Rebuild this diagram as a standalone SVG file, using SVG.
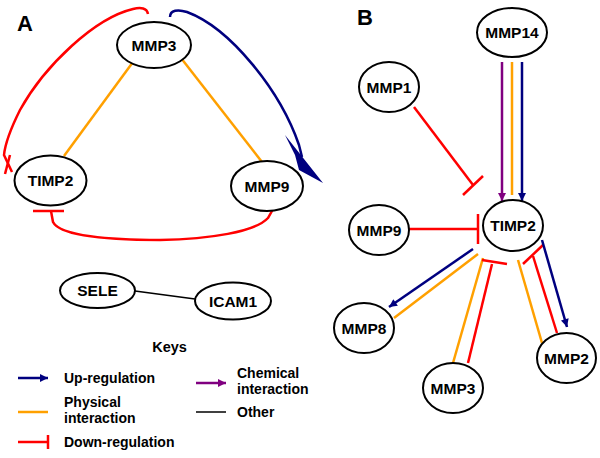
<svg xmlns="http://www.w3.org/2000/svg" width="600" height="458" viewBox="0 0 600 458">
<defs>
<marker id="ah-blue" viewBox="0 0 10 10" refX="10" refY="5" markerWidth="10" markerHeight="8" markerUnits="userSpaceOnUse" orient="auto"><path d="M0,0 L10,5 L0,10 Z" fill="#00007f"/></marker>
<marker id="ah-purple" viewBox="0 0 10 10" refX="10" refY="5" markerWidth="10" markerHeight="8" markerUnits="userSpaceOnUse" orient="auto"><path d="M0,0 L10,5 L0,10 Z" fill="#800080"/></marker>
</defs>
<style>
.node ellipse{fill:#fff;stroke:#000;stroke-width:2}
.node text{font-family:"Liberation Sans",Arial,sans-serif;font-weight:bold;font-size:15.5px;text-anchor:middle;fill:#000}
.lbl{font-family:"Liberation Sans",Arial,sans-serif;font-weight:bold;fill:#000}
.key{font-family:"Liberation Sans",Arial,sans-serif;font-weight:bold;font-size:14px;fill:#000}
.up{stroke:#00007f;stroke-width:2.5;fill:none}
.phys{stroke:#ffa000;stroke-width:2.5;fill:none}
.down{stroke:#ff0000;stroke-width:2.5;fill:none}
.chem{stroke:#800080;stroke-width:2.5;fill:none}
.other{stroke:#000;stroke-width:1.5;fill:none}
</style>
<rect width="600" height="458" fill="#fff"/>
<text class="lbl" x="17" y="31" font-size="22">A</text>
<text class="lbl" x="357" y="25" font-size="22">B</text>
<g id="connectors">
<!-- Panel A -->
<line class="phys" x1="133" y1="62" x2="64" y2="156"/>
<line class="phys" x1="181" y1="58" x2="262" y2="162"/>
<path class="down" stroke-width="3.2" d="M148,14 C147,8 141,7 133,9 C95,18 45,65 20,110 C10,130 5,145 4,155 L12,172"/>
<line class="down" stroke-width="3" x1="10" y1="155" x2="5" y2="174"/>
<path class="down" stroke-width="3.2" d="M277,202 L268,218 C255,232 210,239 160,240 C110,240 60,236 53,222 L51,211"/>
<line class="down" stroke-width="3" x1="33" y1="211" x2="64" y2="211"/>
<path class="up" stroke-width="3.5" d="M170,17 C170,10 178,9 187,12 C230,28 280,90 299,145 L302,157"/>
<polygon fill="#00007f" points="323,183 285,135 295,155 299,170"/>
<line class="other" x1="135" y1="291" x2="195" y2="299"/>
<!-- Panel B -->
<line class="chem" x1="502" y1="62" x2="502" y2="201" marker-end="url(#ah-purple)"/>
<line class="phys" x1="512" y1="62" x2="512" y2="195"/>
<line class="up" x1="522" y1="62" x2="522" y2="201" marker-end="url(#ah-blue)"/>
<line class="down" x1="414" y1="107" x2="473" y2="185"/>
<line class="down" x1="463" y1="195" x2="483" y2="176"/>
<line class="down" x1="409" y1="229" x2="478" y2="229"/>
<line class="down" x1="478" y1="214" x2="478" y2="244"/>
<line class="up" x1="473" y1="249" x2="389" y2="307" marker-end="url(#ah-blue)"/>
<line class="phys" x1="478" y1="254" x2="394" y2="318"/>
<line class="phys" x1="483" y1="258" x2="453" y2="363"/>
<line class="down" x1="468" y1="363" x2="492" y2="264"/>
<line class="down" x1="482" y1="260" x2="507" y2="264"/>
<line class="phys" x1="518" y1="260" x2="542" y2="343"/>
<line class="down" x1="557" y1="333" x2="533" y2="256"/>
<line class="down" x1="523" y1="264" x2="543" y2="245"/>
<line class="up" x1="542" y1="240" x2="567" y2="327" marker-end="url(#ah-blue)"/>
</g>
<g id="node-A-MMP3" class="node"><ellipse cx="154" cy="45" rx="37" ry="23"/><text x="154" y="51">MMP3</text></g>
<g id="node-A-TIMP2" class="node"><ellipse cx="50.5" cy="180.5" rx="36" ry="25"/><text x="50.5" y="186">TIMP2</text></g>
<g id="node-A-MMP9" class="node"><ellipse cx="267" cy="186" rx="36" ry="25"/><text x="267" y="191.5">MMP9</text></g>
<g id="node-SELE" class="node"><ellipse cx="97.5" cy="290.5" rx="37.5" ry="17.5"/><text x="97.5" y="296">SELE</text></g>
<g id="node-ICAM1" class="node"><ellipse cx="233" cy="301" rx="38" ry="18.5"/><text x="233" y="306.5">ICAM1</text></g>
<g id="node-B-MMP14" class="node"><ellipse cx="512" cy="32.5" rx="35" ry="24.5"/><text x="512" y="38">MMP14</text></g>
<g id="node-B-MMP1" class="node"><ellipse cx="389" cy="87" rx="30" ry="25"/><text x="389" y="92.5">MMP1</text></g>
<g id="node-B-TIMP2" class="node"><ellipse cx="513" cy="225.5" rx="30" ry="25.5"/><text x="513" y="231">TIMP2</text></g>
<g id="node-B-MMP9" class="node"><ellipse cx="379" cy="230" rx="30" ry="25"/><text x="379" y="235.5">MMP9</text></g>
<g id="node-B-MMP8" class="node"><ellipse cx="364" cy="328" rx="30" ry="25"/><text x="364" y="333.5">MMP8</text></g>
<g id="node-B-MMP3" class="node"><ellipse cx="453" cy="388" rx="30" ry="25"/><text x="453" y="393.5">MMP3</text></g>
<g id="node-B-MMP2" class="node"><ellipse cx="566.5" cy="358" rx="29.5" ry="25"/><text x="566.5" y="363.5">MMP2</text></g>
<g id="legend">
<text class="lbl" x="169.5" y="352" font-size="14.5" text-anchor="middle">Keys</text>
<line class="up" x1="18" y1="378" x2="48" y2="378" marker-end="url(#ah-blue)"/>
<text class="key" x="64" y="383">Up-regulation</text>
<line class="phys" x1="18" y1="412" x2="48" y2="412"/>
<text class="key" x="64" y="407">Physical</text>
<text class="key" x="64" y="423">interaction</text>
<line class="down" x1="18" y1="442" x2="48" y2="442"/>
<line class="down" x1="48" y1="435" x2="48" y2="449"/>
<text class="key" x="64" y="447">Down-regulation</text>
<line class="chem" x1="196" y1="383" x2="226" y2="383" marker-end="url(#ah-purple)"/>
<text class="key" x="237" y="378">Chemical</text>
<text class="key" x="237" y="394">interaction</text>
<line class="other" stroke-width="2.5" x1="196" y1="412" x2="226" y2="412"/>
<text class="key" x="237" y="417">Other</text>
</g>
</svg>
